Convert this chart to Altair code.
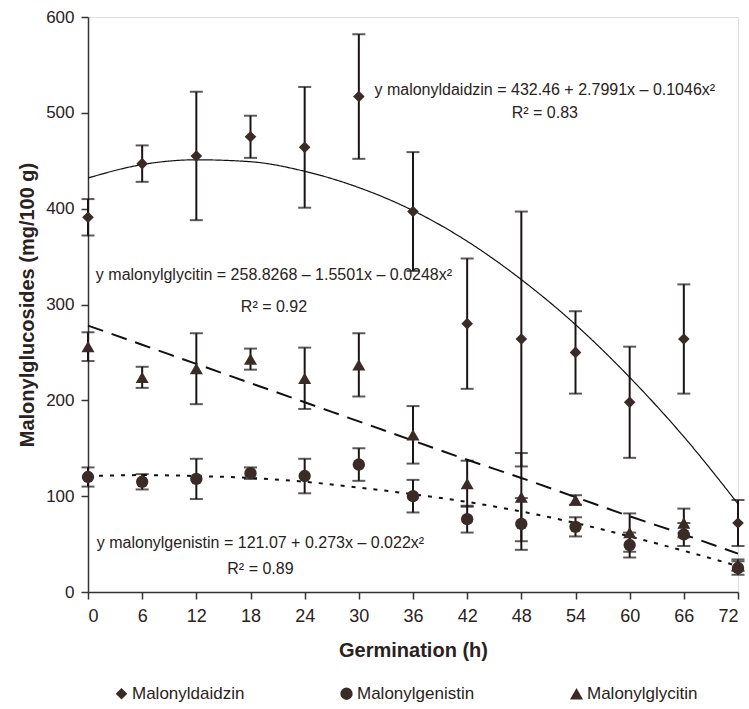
import altair as alt
import pandas as pd

# ---- data ----
hours = [0, 6, 12, 18, 24, 30, 36, 42, 48, 54, 60, 66, 72]
series_names = ["Malonyldaidzin", "Malonylgenistin", "Malonylglycitin"]

daidzin = [391, 447, 455, 475, 464, 517, 397, 280, 264, 250, 198, 264, 72]
daidzin_err = [19, 19, 67, 22, 63, 65, 62, 68, 133, 43, 58, 57, 24]
genistin = [120, 115, 118, 124, 121, 133, 100, 76, 71, 68, 49, 60, 25]
genistin_err = [10, 8, 21, 6, 18, 17, 17, 14, 27, 10, 13, 12, 7]
glycitin = [256, 224, 233, 243, 223, 237, 164, 113, 99, 96, 62, 72, 28]
glycitin_err = [15, 11, 37, 11, 32, 33, 30, 24, 46, 5, 20, 15, 6]

# fitted trend curves
daidzin_fit = [432, 446, 451, 449, 439, 422, 398, 366, 326, 279, 224, 162, 92]
genistin_fit = [121, 122, 121, 119, 115, 109, 102, 94, 84, 72, 58, 43, 27]
glycitin_fit = [278, 258, 238, 218, 198, 178, 158, 138, 119, 99, 79, 60, 40]

eq_text = [
    "y malonyldaidzin = 432.46 + 2.7991x \u2013 0.1046x\u00b2",
    "R\u00b2 = 0.83",
    "y malonylglycitin = 258.8268 \u2013 1.5501x \u2013 0.0248x\u00b2",
    "R\u00b2 = 0.92",
    "y malonylgenistin = 121.07 + 0.273x \u2013 0.022x\u00b2",
    "R\u00b2 = 0.89",
]
eq_x = [50.6, 50.6, 20.6, 20.6, 19.1, 19.1]
eq_y = [524, 500, 331, 297, 51, 24]

y_ticks = [0, 100, 200, 300, 400, 500, 600]

# ---- tables ----
rows = []
for name, vals, errs in zip(series_names, [daidzin, genistin, glycitin],
                            [daidzin_err, genistin_err, glycitin_err]):
    for h, v, e in zip(hours, vals, errs):
        rows.append(dict(series=name, hour=h, value=v, lo=v - e, hi=v + e))
df = pd.DataFrame(rows)

df_eq = pd.DataFrame(dict(text=eq_text, hour=eq_x, value=eq_y))

FONT = "Liberation Sans"
INK = "#2a2220"
MARK = "#3b2b28"

x_enc = alt.X("hour:Q", scale=alt.Scale(domain=[0, 72], nice=False),
              axis=alt.Axis(values=hours, title="Germination (h)", grid=False,
                            labelFontSize=18, titleFontSize=20, titleFontWeight="bold",
                            tickSize=7, labelPadding=8, titlePadding=15,
                            domainColor="#333", tickColor="#333", domainWidth=1.5,
                            tickWidth=1.5, labelColor=INK, titleColor=INK,
                            labelFont=FONT, titleFont=FONT))
y_scale = alt.Scale(domain=[0, 600], nice=False)
y_axis = alt.Axis(values=y_ticks, title="Malonylglucosides (mg/100 g)", grid=False,
                  labelFontSize=17, titleFontSize=20, titleFontWeight="bold",
                  tickSize=7, labelPadding=7, titlePadding=8,
                  domainColor="#333", tickColor="#333", domainWidth=1.5,
                  tickWidth=1.5, labelColor=INK, titleColor=INK,
                  labelFont=FONT, titleFont=FONT)

base = alt.Chart(df)

rules = base.mark_rule(color="#1a1414", strokeWidth=2).encode(
    x=x_enc,
    y=alt.Y("lo:Q", scale=y_scale, axis=y_axis),
    y2="hi:Q",
)
cap_lo = base.mark_tick(orient="horizontal", size=13, thickness=2, color="#1a1414").encode(
    x="hour:Q", y=alt.Y("lo:Q", scale=y_scale))
cap_hi = base.mark_tick(orient="horizontal", size=13, thickness=2, color="#1a1414").encode(
    x="hour:Q", y=alt.Y("hi:Q", scale=y_scale))


def fit_layer(vals, dash, width):
    d = pd.DataFrame(dict(hour=hours, fit=vals))
    return alt.Chart(d).mark_line(color="#111", interpolate="monotone",
                                  strokeDash=dash, strokeWidth=width).encode(
        x="hour:Q", y=alt.Y("fit:Q", scale=y_scale))


fit_d = fit_layer(daidzin_fit, [1, 0], 1.2)
fit_gen = fit_layer(genistin_fit, [4, 7], 2)
fit_gly = fit_layer(glycitin_fit, [16, 9], 2)

legend = alt.Legend(title=None, orient="none", direction="horizontal",
                    legendX=25, legendY=668, columnPadding=93,
                    labelFontSize=17, labelFont=FONT, labelColor=INK,
                    symbolFillColor=MARK, symbolStrokeColor=MARK, symbolStrokeWidth=0,
                    symbolOffset=0, labelOffset=2, padding=0)

points = base.mark_point(filled=True, color=MARK, opacity=1).encode(
    x="hour:Q",
    y=alt.Y("value:Q", scale=y_scale),
    shape=alt.Shape("series:N", legend=legend,
                    scale=alt.Scale(domain=series_names,
                                    range=["diamond", "circle", "triangle-up"])),
    size=alt.Size("series:N", legend=legend,
                  scale=alt.Scale(domain=series_names, range=[135, 170, 105])),
)

texts = alt.Chart(df_eq).mark_text(fontSize=16, font=FONT, color=INK,
                                   align="center", baseline="middle").encode(
    x="hour:Q", y=alt.Y("value:Q", scale=y_scale), text="text:N")

chart = alt.layer(rules, cap_lo, cap_hi, fit_d, fit_gen, fit_gly, points, texts).properties(
    width=650, height=575,
    autosize=alt.AutoSizeParams(type="none"),
    padding={"left": 88, "top": 17, "right": 11, "bottom": 117},
).configure_view(stroke=None).configure(background="white")

chart.save("out.html", embed_options={"renderer": "svg", "actions": False})
